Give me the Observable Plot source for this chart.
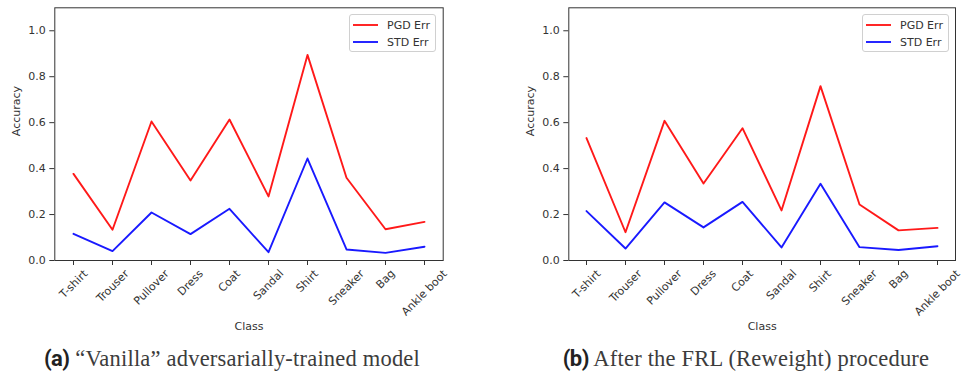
<!DOCTYPE html>
<html>
<head>
<meta charset="utf-8">
<script src="https://cdn.jsdelivr.net/npm/d3@7"></script>
<script src="https://cdn.jsdelivr.net/npm/@observablehq/plot@0.6"></script>
<style>
  html, body { margin: 0; padding: 0; background: #fff; }
  #root { position: relative; width: 963px; height: 380px; overflow: hidden; background: #fff; }
  .panel { position: absolute; top: 0; }
  .legend { position: absolute; box-sizing: border-box; border: 1px solid #d0d0d0; border-radius: 3px; background: rgba(255,255,255,0.85);
            font-family: "DejaVu Sans", sans-serif; font-size: 11px; color: #333; }
  .legend .row { position: absolute; left: 0; height: 14px; display: flex; align-items: center; white-space: nowrap; }
  .legend .sw { display: inline-block; width: 25px; height: 2px; margin-left: 3px; margin-right: 9px; }
  .caption { position: absolute; top: 346px; white-space: nowrap; transform: translateX(-50%);
             font-family: "Liberation Serif", serif; font-size: 22.5px; color: #3c3c3c; line-height: 26px; letter-spacing: 0.2px; }
  .caption b { font-family: Roboto, sans-serif; font-weight: 700; color: #222; font-size: 22px; letter-spacing: -0.6px; }
</style>
</head>
<body>
<div id="root"></div>
<script>
// ---- data ----
const classes = ["T-shirt", "Trouser", "Pullover", "Dress", "Coat", "Sandal", "Shirt", "Sneaker", "Bag", "Ankle boot"];
const vanillaPGD = [0.377, 0.134, 0.605, 0.348, 0.614, 0.279, 0.895, 0.360, 0.136, 0.168];
const vanillaSTD = [0.116, 0.041, 0.209, 0.115, 0.225, 0.036, 0.444, 0.048, 0.033, 0.060];
const frlPGD = [0.533, 0.123, 0.608, 0.335, 0.576, 0.218, 0.759, 0.244, 0.131, 0.142];
const frlSTD = [0.215, 0.052, 0.253, 0.144, 0.255, 0.057, 0.334, 0.058, 0.046, 0.062];
const yTicks = [0.0, 0.2, 0.4, 0.6, 0.8, 1.0];
const seriesNames = ["PGD Err", "STD Err"];
const seriesColors = ["#ff0000", "#0000ff"];
const captions = [["(a)", "\u201cVanilla\u201d adversarially-trained model"], ["(b)", "After the FRL (Reweight) procedure"]];
const xLabel = "Class";
const yLabel = "Accuracy";

const root = document.getElementById("root");

function toRows(pgd, std) {
  const rows = [];
  classes.forEach((c, i) => {
    rows.push({cls: c, value: pgd[i], series: seriesNames[0]});
  });
  classes.forEach((c, i) => {
    rows.push({cls: c, value: std[i], series: seriesNames[1]});
  });
  return rows;
}

function makePanel(pgd, std, opts) {
  const rows = toRows(pgd, std);
  const chart = Plot.plot({
    width: opts.width,
    height: 340,
    marginLeft: opts.marginLeft,
    marginRight: opts.marginRight,
    marginTop: 7.3,
    marginBottom: 80,
    style: {fontFamily: "DejaVu Sans, sans-serif", fontSize: "11px", color: "#333", background: "transparent", overflow: "visible"},
    x: {type: "point", domain: classes, padding: 0.45, label: null},
    y: {domain: [0, 1.1], label: null},
    color: {domain: seriesNames, range: seriesColors},
    marks: [
      Plot.axisY({ticks: yTicks, tickFormat: d3.format(".1f"), tickSize: 5, tickPadding: 4, label: null, color: "#333"}),
      Plot.axisX({tickSize: 5, tickRotate: -45, tickPadding: 3, label: null, color: "#333"}),
      Plot.lineY(rows, {x: "cls", y: "value", z: "series", stroke: "series", strokeWidth: 1.9, strokeOpacity: 0.9}),
      Plot.frame({stroke: "#333", strokeWidth: 1}),
      Plot.text([yLabel], {frameAnchor: "left", dx: -opts.yLabelOffset, dy: 2, rotate: -90, fill: "#333", fontSize: 11}),
      Plot.text([xLabel], {frameAnchor: "bottom", dy: 69, fill: "#333", fontSize: 11})
    ]
  });
  const wrap = document.createElement("div");
  wrap.className = "panel";
  wrap.style.left = opts.left + "px";
  wrap.appendChild(chart);
  root.appendChild(wrap);

  // legend
  const lg = document.createElement("div");
  lg.className = "legend";
  lg.style.left = opts.legendLeft + "px";
  lg.style.top = "14px";
  lg.style.width = "87px";
  lg.style.height = "38px";
  seriesNames.forEach((n, i) => {
    const r = document.createElement("div");
    r.className = "row";
    r.style.top = (3 + i * 17) + "px";
    const sw = document.createElement("span");
    sw.className = "sw";
    sw.style.background = seriesColors[i];
    sw.style.opacity = 0.85;
    r.appendChild(sw);
    r.appendChild(document.createTextNode(n));
    lg.appendChild(r);
  });
  root.appendChild(lg);

  // caption
  const cap = document.createElement("div");
  cap.className = "caption";
  cap.style.left = opts.captionCenter + "px";
  cap.innerHTML = "<b>" + opts.caption[0] + "</b> " + opts.caption[1];
  root.appendChild(cap);

  // center rotated tick labels under ticks like matplotlib (ha=center, va=top)
  const svg = chart.tagName === "svg" ? chart : chart.querySelector("svg");
  const sRect = svg.getBoundingClientRect();
  const texts = svg.querySelectorAll('g[aria-label="x-axis tick label"] text');
  const frameBottom = 340 - 80;
  texts.forEach((t) => {
    const tr = t.getAttribute("transform") || "";
    const m = /translate\(([-\d.]+),\s*([-\d.]+)\)/.exec(tr);
    const b = t.getBoundingClientRect();
    const parent = t.parentNode;
    const ptr = parent.getAttribute("transform") || "";
    const pm = /translate\(([-\d.]+),\s*([-\d.]+)\)/.exec(ptr);
    const tickX = (m ? +m[1] : 0) + (pm ? +pm[1] : 0);
    const cx = (b.left + b.right) / 2 - sRect.left;
    const top = b.top - sRect.top;
    const dx = tickX - cx;
    const dy = (frameBottom + 7) - top;
    t.setAttribute("transform", `translate(${dx},${dy}) ` + tr);
  });
}

makePanel(vanillaPGD, vanillaSTD, {left: 0, width: 480, marginLeft: 54.3, marginRight: 37.3, yLabelOffset: 38.5, legendLeft: 349, captionCenter: 232, caption: captions[0]});
makePanel(frlPGD, frlSTD, {left: 480, width: 483, marginLeft: 88.3, marginRight: 8, yLabelOffset: 38.5, legendLeft: 862, captionCenter: 746, caption: captions[1]});
</script>
</body>
</html>
